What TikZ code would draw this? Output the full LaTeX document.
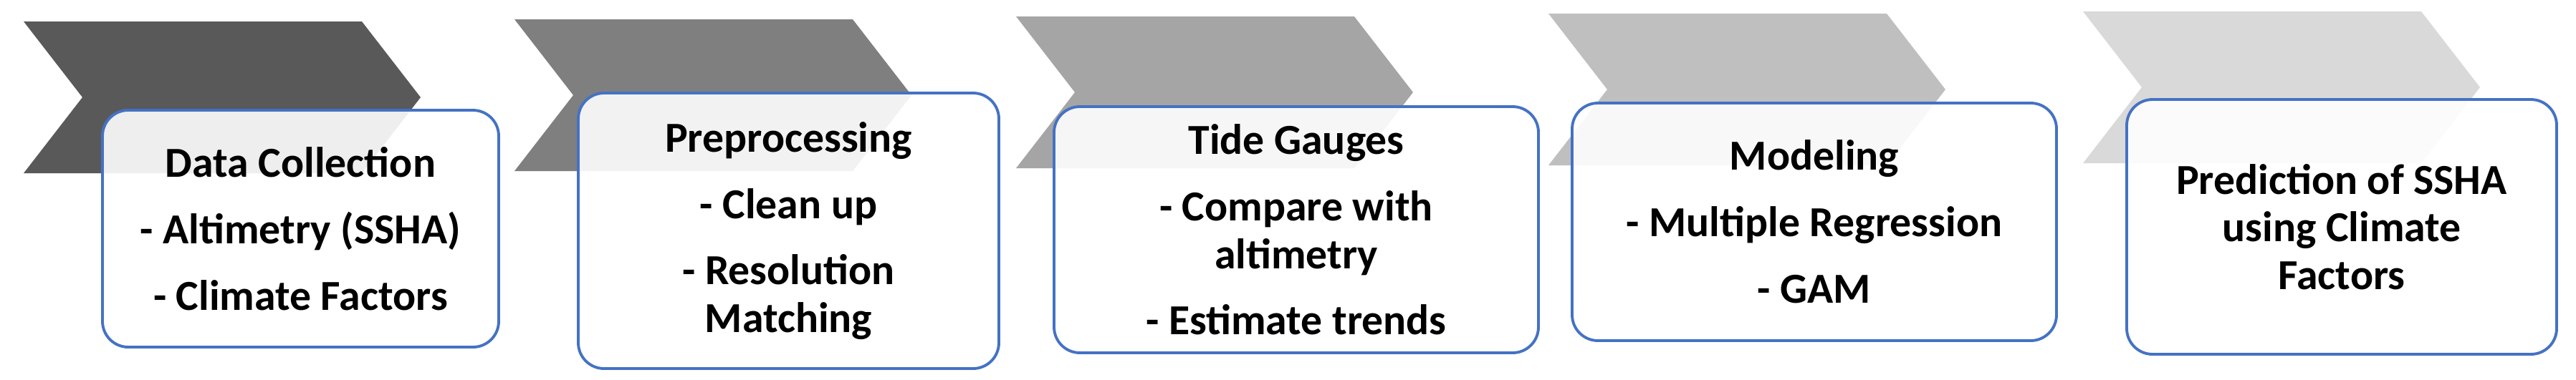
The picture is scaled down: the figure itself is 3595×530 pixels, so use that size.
\documentclass[tikz,border=0pt]{standalone}
\usepackage{fontspec}
\setmainfont{Carlito}
\definecolor{ChevOne}{HTML}{595959}
\definecolor{ChevTwo}{HTML}{7F7F7F}
\definecolor{ChevThree}{HTML}{A5A5A5}
\definecolor{ChevFour}{HTML}{BFBFBF}
\definecolor{ChevFive}{HTML}{D9D9D9}
\definecolor{StepBlue}{HTML}{4472C4}

\begin{document}
\begin{tikzpicture}[x=0.1mm,y=-0.1mm]
	\tikzstyle{StepStyle} = [shape=rectangle, rounded corners=3.6mm, draw=StepBlue, line width=1.1pt, fill=white, fill opacity=0.9, text opacity=1, align=center, inner sep=0pt, font=\fontsize{17pt}{19pt}\selectfont\bfseries]
	
	\useasboundingbox (0,0) rectangle (3595,530);
	\fill[ChevOne]   (33,30) -- (505,30) -- (587,136) -- (505,242) -- (33,242) -- (115,136) -- cycle;
	\fill[ChevTwo]   (718,27) -- (1190,27) -- (1272,133) -- (1190,239) -- (718,239) -- (800,133) -- cycle;
	\fill[ChevThree] (1418,23) -- (1890,23) -- (1972,129) -- (1890,235) -- (1418,235) -- (1500,129) -- cycle;
	\fill[ChevFour]  (2161,19) -- (2633,19) -- (2715,125) -- (2633,231) -- (2161,231) -- (2243,125) -- cycle;
	\fill[ChevFive]  (2907,16) -- (3379,16) -- (3461,122) -- (3379,228) -- (2907,228) -- (2989,122) -- cycle;
	
	\node[StepStyle, minimum width=55.3mm, minimum height=33.1mm] (DataCollection) at (419.5,319.5) {Data Collection\\[2.6mm]- Altimetry (SSHA)\\[2.6mm]- Climate Factors};
	\node[StepStyle, minimum width=58.7mm, minimum height=38.5mm] (Preprocessing) at (1100.5,322.5) {Preprocessing\\[2.6mm]- Clean up\\[2.6mm]- Resolution\\Matching};
	\node[StepStyle, minimum width=67.6mm, minimum height=34.4mm] (TideGauges) at (1809,321) {Tide Gauges\\[2.6mm]- Compare with\\altimetry\\[2.6mm]- Estimate trends};
	\node[StepStyle, minimum width=67.6mm, minimum height=33.2mm] (Modeling) at (2532,310) {Modeling\\[2.6mm]- Multiple Regression\\[2.6mm]- GAM};
	\node[StepStyle, minimum width=60mm, minimum height=35.6mm] (Prediction) at (3268,317) {Prediction of SSHA\\using Climate\\Factors};
\end{tikzpicture}
\end{document}
